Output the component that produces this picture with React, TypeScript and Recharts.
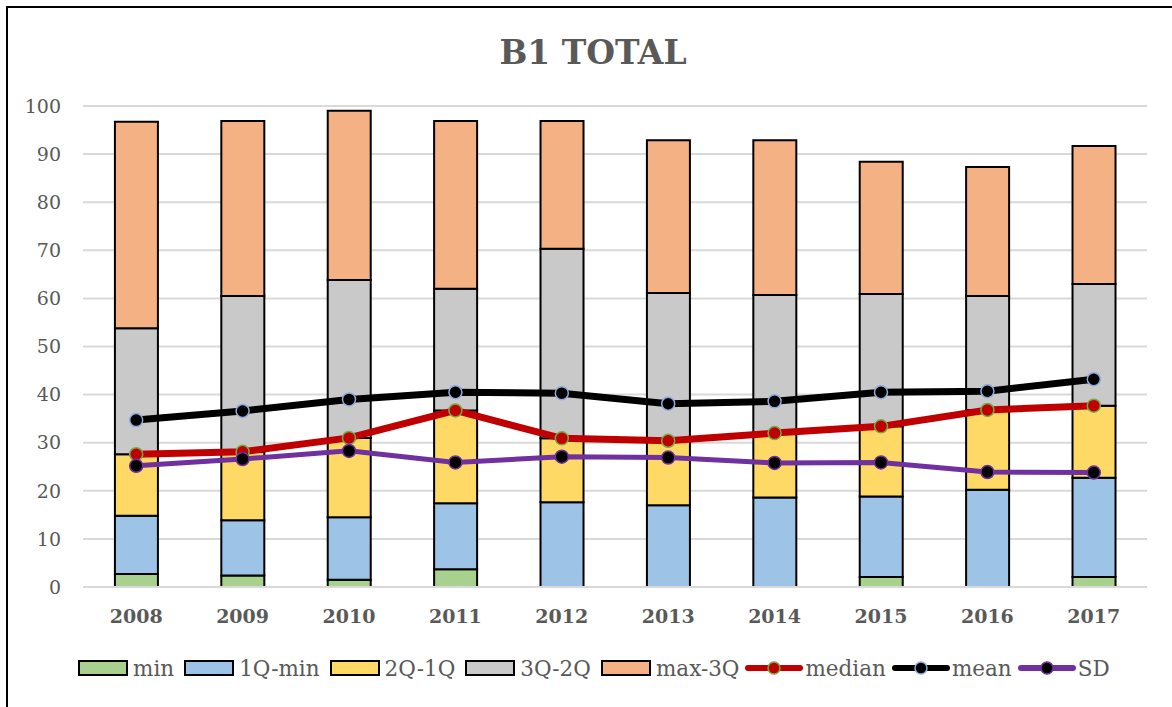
import React from "react";
import {
  ComposedChart,
  Bar,
  Line,
  XAxis,
  YAxis,
  CartesianGrid,
  Legend,
} from "recharts";

const years = ["2008", "2009", "2010", "2011", "2012", "2013", "2014", "2015", "2016", "2017"];
const minVals = [2.7, 2.4, 1.5, 3.7, 0, 0, 0, 2.1, 0, 2.1];
const q1MinVals = [12.1, 11.5, 13.0, 13.7, 17.6, 17.0, 18.6, 16.7, 20.2, 20.6];
const q2Q1Vals = [12.8, 14.2, 16.5, 19.3, 13.3, 13.4, 13.4, 14.6, 16.6, 15.0];
const q3Q2Vals = [26.2, 32.4, 32.8, 25.3, 39.4, 30.7, 28.7, 27.5, 23.7, 25.3];
const maxQ3Vals = [42.9, 36.4, 35.2, 34.9, 26.6, 31.8, 32.2, 27.5, 26.8, 28.7];
const medianVals = [27.6, 28.1, 31.0, 36.7, 30.9, 30.4, 32.0, 33.4, 36.8, 37.7];
const meanVals = [34.7, 36.6, 39.0, 40.5, 40.3, 38.1, 38.6, 40.5, 40.7, 43.2];
const sdVals = [25.2, 26.6, 28.3, 25.9, 27.1, 26.9, 25.8, 25.9, 23.9, 23.8];
const yTicks = [0, 10, 20, 30, 40, 50, 60, 70, 80, 90, 100];

const data = years.map((y, i) => ({
  year: y,
  min: minVals[i],
  q1min: q1MinVals[i],
  q2q1: q2Q1Vals[i],
  q3q2: q3Q2Vals[i],
  maxq3: maxQ3Vals[i],
  median: medianVals[i],
  mean: meanVals[i],
  sd: sdVals[i],
}));

const FONT = "'DejaVu Serif', serif";
const TXT = "#595959";

const barItems = [
  { label: "min", color: "#A9D18E" },
  { label: "1Q-min", color: "#9DC3E6" },
  { label: "2Q-1Q", color: "#FFD966" },
  { label: "3Q-2Q", color: "#C9C9C9" },
  { label: "max-3Q", color: "#F4B183" },
];
const lineItems = [
  { label: "median", line: "#C00000", fill: "#C00000", dotStroke: "#70AD47" },
  { label: "mean", line: "#000000", fill: "#000000", dotStroke: "#8FAADC" },
  { label: "SD", line: "#7030A0", fill: "#000000", dotStroke: "#7030A0" },
];

const LegendContent = () => (
  <div
    style={{
      height: 30,
      display: "flex",
      alignItems: "center",
      paddingLeft: 70,
      fontFamily: FONT,
      fontSize: 21.5,
      color: TXT,
      whiteSpace: "nowrap",
    }}
  >
    {barItems.map((b, i) => (
      <div
        key={b.label}
        style={{ display: "flex", alignItems: "center", marginRight: i === barItems.length - 1 ? 6 : 10 }}
      >
        <div
          style={{
            width: 46,
            height: 12,
            background: b.color,
            border: "2px solid #000",
            marginRight: 5,
          }}
        />
        <span>{b.label}</span>
      </div>
    ))}
    {lineItems.map((l) => (
      <div key={l.label} style={{ display: "flex", alignItems: "center", marginRight: 6 }}>
        <svg width={58} height={20} style={{ marginRight: 2 }}>
          <line x1={3} y1={10} x2={55} y2={10} stroke={l.line} strokeWidth={6} strokeLinecap="round" />
          <circle cx={29} cy={10} r={6} fill={l.fill} stroke={l.dotStroke} strokeWidth={1.5} />
        </svg>
        <span>{l.label}</span>
      </div>
    ))}
  </div>
);

export default function App() {
  return (
    <div
      style={{
        position: "fixed",
        left: 6,
        top: 6,
        width: 1166,
        height: 701,
        borderTop: "2px solid #000",
        borderLeft: "2px solid #000",
        background: "#fff",
        overflow: "hidden",
      }}
    >
      <div
        style={{
          position: "absolute",
          top: 25,
          left: 0,
          width: 1170,
          textAlign: "center",
          fontFamily: FONT,
          fontWeight: "bold",
          fontSize: 33,
          color: TXT,
        }}
      >
        B1 TOTAL
      </div>
      <ComposedChart
        width={1164}
        height={699}
        data={data}
        margin={{ top: 98, right: 25, bottom: 24, left: 0 }}
        barCategoryGap="30%"
      >
        <CartesianGrid vertical={false} stroke="#D9D9D9" strokeWidth={2} />
        <XAxis
          dataKey="year"
          height={66}
          tickLine={false}
          tickSize={0}
          tickMargin={23}
          axisLine={{ stroke: "#D9D9D9", strokeWidth: 2 }}
          tick={{ fill: TXT, fontFamily: FONT, fontSize: 19, fontWeight: "bold" }}
        />
        <YAxis
          width={75}
          domain={[0, 100]}
          ticks={yTicks}
          interval={0}
          axisLine={false}
          tickLine={false}
          tickSize={0}
          tickMargin={22}
          tick={{ fill: TXT, fontFamily: FONT, fontSize: 19 }}
        />
        <Legend verticalAlign="bottom" content={<LegendContent />} />
        <Bar dataKey="min" name="min" stackId="s" fill="#A9D18E" stroke="#000" strokeWidth={2} isAnimationActive={false} />
        <Bar dataKey="q1min" name="1Q-min" stackId="s" fill="#9DC3E6" stroke="#000" strokeWidth={2} isAnimationActive={false} />
        <Bar dataKey="q2q1" name="2Q-1Q" stackId="s" fill="#FFD966" stroke="#000" strokeWidth={2} isAnimationActive={false} />
        <Bar dataKey="q3q2" name="3Q-2Q" stackId="s" fill="#C9C9C9" stroke="#000" strokeWidth={2} isAnimationActive={false} />
        <Bar dataKey="maxq3" name="max-3Q" stackId="s" fill="#F4B183" stroke="#000" strokeWidth={2} isAnimationActive={false} />
        <Line
          dataKey="median"
          name="median"
          stroke="#C00000"
          strokeWidth={7}
          dot={{ r: 6.5, fill: "#C00000", stroke: "#70AD47", strokeWidth: 1.5 }}
          isAnimationActive={false}
        />
        <Line
          dataKey="mean"
          name="mean"
          stroke="#000000"
          strokeWidth={7}
          dot={{ r: 6.5, fill: "#000000", stroke: "#8FAADC", strokeWidth: 1.5 }}
          isAnimationActive={false}
        />
        <Line
          dataKey="sd"
          name="SD"
          stroke="#7030A0"
          strokeWidth={5}
          dot={{ r: 6.5, fill: "#000000", stroke: "#7030A0", strokeWidth: 1.5 }}
          isAnimationActive={false}
        />
      </ComposedChart>
    </div>
  );
}
